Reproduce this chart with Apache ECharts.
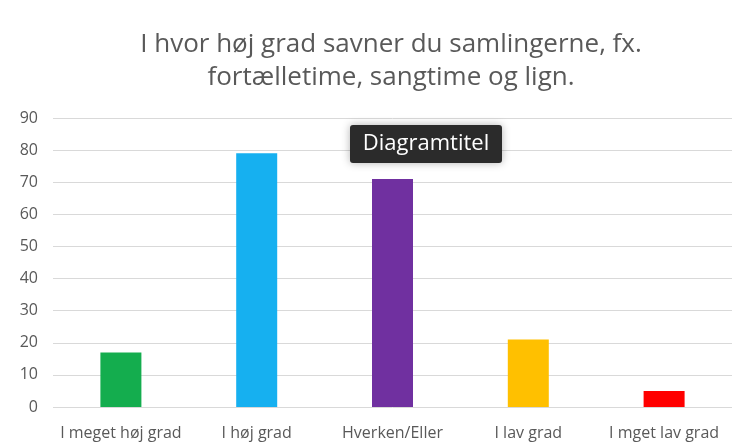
<!DOCTYPE html>
<html>
<head>
<meta charset="utf-8">
<script src="https://cdn.jsdelivr.net/npm/echarts@6/dist/echarts.min.js"></script>
<style>
html,body{margin:0;padding:0;background:#fff;}
#chart{width:746px;height:446px;}
</style>
</head>
<body>
<div id="chart"></div>
<script>
var categories = ['I meget høj grad', 'I høj grad', 'Hverken/Eller', 'I lav grad', 'I mget lav grad'];
var values = [17, 79, 71, 21, 5];
var barColors = ['#14ad4e', '#16b0f0', '#7030a0', '#ffc000', '#ff0000'];

var chart = echarts.init(document.getElementById('chart'));

var seriesData = [];
for (var i = 0; i < values.length; i++) {
    seriesData.push({ value: values[i], itemStyle: { color: barColors[i] } });
}

chart.setOption({
    animation: false,
    title: {
        text: 'I hvor høj grad savner du samlingerne, fx.\nfortælletime, sangtime og lign.',
        left: 386,
        textAlign: 'center',
        top: 23,
        textStyle: {
            fontFamily: 'Open Sans',
            fontSize: 26,
            fontWeight: 'normal',
            color: '#595959',
            lineHeight: 33
        }
    },
    grid: { left: 53, right: 14, top: 118, bottom: 39 },
    xAxis: {
        type: 'category',
        data: categories,
        axisLine: { show: false },
        axisTick: { show: false },
        axisLabel: {
            interval: 0,
            margin: 18,
            color: '#595959',
            fontFamily: 'Open Sans',
            fontSize: 16
        }
    },
    yAxis: {
        type: 'value',
        min: 0,
        max: 90,
        interval: 10,
        axisLabel: {
            margin: 15,
            color: '#595959',
            fontFamily: 'Open Sans',
            fontSize: 16
        },
        splitLine: { lineStyle: { color: '#d9d9d9', width: 1 } }
    },
    series: [{
        type: 'bar',
        data: seriesData,
        barWidth: 41
    }],
    graphic: [{
        type: 'group',
        left: 350,
        top: 125,
        z: 100,
        children: [{
            type: 'rect',
            z: 100,
            shape: { width: 152, height: 38, r: 3 },
            style: { fill: '#2b2b2b', shadowBlur: 8, shadowColor: 'rgba(0,0,0,0.3)' }
        }, {
            type: 'text',
            z: 101,
            x: 76,
            y: 19,
            style: {
                text: 'Diagramtitel',
                fill: '#ffffff',
                font: '22px "Open Sans"',
                align: 'center',
                verticalAlign: 'middle'
            }
        }]
    }]
});
</script>
</body>
</html>
